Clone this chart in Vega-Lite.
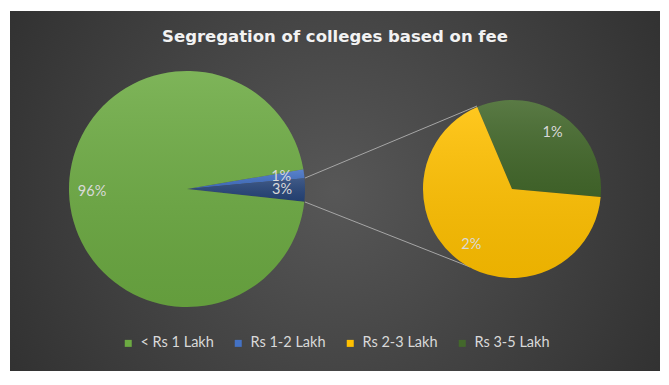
{
  "$schema": "https://vega.github.io/schema/vega-lite/v6.json",
  "width": 650,
  "height": 360,
  "autosize": {"type": "none"},
  "padding": {"left": 10, "top": 11, "right": 9, "bottom": 14},
  "background": "#ffffff",
  "config": {
    "view": {
      "stroke": null,
      "fill": {
        "gradient": "radial",
        "x1": 0.5, "y1": 0.5, "r1": 0,
        "x2": 0.5, "y2": 0.5, "r2": 0.75,
        "stops": [
          {"offset": 0, "color": "#575757"},
          {"offset": 1, "color": "#262626"}
        ]
      }
    },
    "font": "Lato",
    "legend": {"layout": {"bottom": {"anchor": "middle"}}}
  },
  "title": {
    "text": "Segregation of colleges based on fee",
    "offset": -34,
    "color": "#f2f2f2",
    "fontSize": 16.5,
    "fontWeight": "bold",
    "font": "DejaVu Sans",
    "anchor": "middle"
  },
  "datasets": {
    "main": [
      {"cat": "Rs 1-2 Lakh", "value": 1.2, "label": "1%", "ord": 1},
      {"cat": "Other", "value": 3.2, "label": "3%", "ord": 2},
      {"cat": "< Rs 1 Lakh", "value": 95.6, "label": "96%", "ord": 3}
    ],
    "second": [
      {"cat": "Rs 3-5 Lakh", "value": 1.05, "label": "1%", "ord": 1},
      {"cat": "Rs 2-3 Lakh", "value": 2.15, "label": "2%", "ord": 2}
    ],
    "lines": [
      {"x": 295, "y": 167, "x2": 467, "y2": 95},
      {"x": 295, "y": 191, "x2": 460, "y2": 256}
    ]
  },
  "resolve": {"scale": {"theta": "independent"}},
  "layer": [
    {
      "data": {"name": "lines"},
      "mark": {"type": "rule", "color": "#a6a6a6", "strokeWidth": 1},
      "encoding": {
        "x": {"field": "x", "type": "quantitative", "scale": {"domain": [0, 650]}, "axis": null},
        "y": {"field": "y", "type": "quantitative", "scale": {"domain": [0, 360], "reverse": true}, "axis": null},
        "x2": {"field": "x2"},
        "y2": {"field": "y2"}
      }
    },
    {
      "data": {"name": "main"},
      "encoding": {
        "x": {"datum": 177, "type": "quantitative", "scale": {"domain": [0, 650]}, "axis": null},
        "y": {"datum": 178, "type": "quantitative", "scale": {"domain": [0, 360], "reverse": true}, "axis": null},
        "theta": {"field": "value", "type": "quantitative", "stack": true, "scale": {"domain": [0, 100], "range": [1.4032, 7.6864]}},
        "order": {"field": "ord", "type": "quantitative"},
        "detail": {"field": "cat"}
      },
      "layer": [
        {
          "mark": {"type": "arc", "outerRadius": 118},
          "encoding": {
            "color": {
              "field": "cat", "type": "nominal",
              "scale": {
                "domain": ["< Rs 1 Lakh", "Rs 1-2 Lakh", "Rs 2-3 Lakh", "Rs 3-5 Lakh", "Other"],
                "range": ["#6caa42", "#4472c4", "#ffc000", "#43682b", "#264478"]
              },
              "legend": {
                "values": ["< Rs 1 Lakh", "Rs 1-2 Lakh", "Rs 2-3 Lakh", "Rs 3-5 Lakh"],
                "title": null,
                "orient": "bottom",
                "direction": "horizontal",
                "offset": -35,
                "symbolType": "square",
                "symbolSize": 49,
                "symbolStrokeWidth": 0,
                "labelColor": "#d9d9d9",
                "labelFont": "Lato",
                "labelFontSize": 14.5,
                "columnPadding": 17,
                "labelOffset": 5
              }
            }
          }
        },
        {
          "mark": {
            "type": "arc", "outerRadius": 118,
            "fill": {
              "gradient": "linear", "x1": 0, "y1": 0, "x2": 0, "y2": 1,
              "stops": [
                {"offset": 0, "color": "rgba(255,255,255,0.12)"},
                {"offset": 1, "color": "rgba(0,0,0,0.08)"}
              ]
            }
          }
        },
        {
          "mark": {"type": "text", "radius": 95, "font": "Lato", "fontSize": 14.5, "color": "#d9d9d9"},
          "encoding": {"text": {"field": "label"}}
        }
      ]
    },
    {
      "data": {"name": "second"},
      "encoding": {
        "x": {"datum": 502, "type": "quantitative", "scale": {"domain": [0, 650]}, "axis": null},
        "y": {"datum": 178, "type": "quantitative", "scale": {"domain": [0, 360], "reverse": true}, "axis": null},
        "theta": {"field": "value", "type": "quantitative", "stack": true, "scale": {"domain": [0, 3.2], "range": [-0.4014, 5.8818]}},
        "order": {"field": "ord", "type": "quantitative"},
        "detail": {"field": "cat"}
      },
      "layer": [
        {
          "mark": {"type": "arc", "outerRadius": 89},
          "encoding": {
            "color": {
              "field": "cat", "type": "nominal",
              "scale": {
                "domain": ["< Rs 1 Lakh", "Rs 1-2 Lakh", "Rs 2-3 Lakh", "Rs 3-5 Lakh", "Other"],
                "range": ["#6caa42", "#4472c4", "#ffc000", "#43682b", "#264478"]
              }
            }
          }
        },
        {
          "mark": {
            "type": "arc", "outerRadius": 89,
            "fill": {
              "gradient": "linear", "x1": 0, "y1": 0, "x2": 0, "y2": 1,
              "stops": [
                {"offset": 0, "color": "rgba(255,255,255,0.12)"},
                {"offset": 1, "color": "rgba(0,0,0,0.08)"}
              ]
            }
          }
        },
        {
          "mark": {"type": "text", "radius": 69, "font": "Lato", "fontSize": 14.5, "color": "#d9d9d9"},
          "encoding": {"text": {"field": "label"}}
        }
      ]
    }
  ]
}
